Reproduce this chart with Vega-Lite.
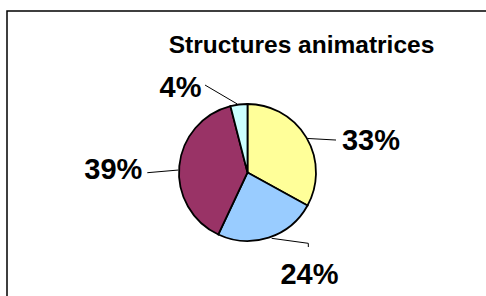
{
  "$schema": "https://vega.github.io/schema/vega-lite/v6.json",
  "width": 481,
  "height": 323,
  "autosize": {"type": "none"},
  "padding": {"left": 7, "top": 11, "right": 0, "bottom": 0},
  "background": "white",
  "view": {"stroke": "black", "strokeWidth": 1.5, "fill": "white"},
  "config": {"font": "Liberation Sans"},
  "title": {
    "text": "Structures animatrices",
    "font": "Liberation Sans",
    "fontSize": 24.5,
    "fontWeight": "bold",
    "color": "black",
    "anchor": "middle",
    "frame": "group",
    "dx": 54,
    "baseline": "alphabetic",
    "offset": -66
  },
  "datasets": {
    "slices": [
      {"cat": "Structure 1", "share": 0.33},
      {"cat": "Structure 2", "share": 0.24},
      {"cat": "Structure 3", "share": 0.39},
      {"cat": "Structure 4", "share": 0.04}
    ],
    "leaders": [
      {"x": 0.875, "y": 0.497, "x2": 1.292, "y2": 0.474},
      {"x": 0.353, "y": -0.961, "x2": 0.888, "y2": -1.034},
      {"x": 0.888, "y": -1.034, "x2": 0.888, "y2": -1.088},
      {"x": -1.010, "y": 0.036, "x2": -1.463, "y2": -0.003},
      {"x": -0.149, "y": 1.0, "x2": -0.620, "y2": 1.277}
    ]
  },
  "layer": [
    {
      "data": {"name": "leaders"},
      "mark": {"type": "rule", "color": "black", "strokeWidth": 1},
      "encoding": {
        "x": {"field": "x", "type": "quantitative", "scale": {"domain": [-3.511, 3.511], "nice": false, "zero": false}, "axis": null},
        "y": {"field": "y", "type": "quantitative", "scale": {"domain": [-2.358, 2.358], "nice": false, "zero": false}, "axis": null},
        "x2": {"field": "x2"},
        "y2": {"field": "y2"}
      }
    },
    {
      "data": {"name": "slices"},
      "mark": {"type": "arc", "outerRadius": 68.5, "stroke": "black", "strokeWidth": 1.8},
      "encoding": {
        "theta": {"field": "share", "type": "quantitative", "stack": true},
        "order": {"field": "cat", "type": "ordinal", "sort": "ascending"},
        "color": {
          "field": "cat",
          "type": "nominal",
          "scale": {"domain": ["Structure 1", "Structure 2", "Structure 3", "Structure 4"], "range": ["#FFFF99", "#99CCFF", "#993366", "#CCFFFF"]},
          "legend": null
        }
      }
    },
    {
      "data": {"name": "slices"},
      "mark": {"type": "text", "radius": 90, "align": "center", "baseline": "alphabetic", "fontSize": 29, "fontWeight": "bold", "color": "black", "dx": 46, "dy": 23.3},
      "encoding": {
        "theta": {"field": "share", "type": "quantitative", "stack": true},
        "order": {"field": "cat", "type": "ordinal", "sort": "ascending"},
        "text": {"condition": {"test": "datum.cat === 'Structure 1'", "field": "share", "type": "quantitative", "format": ".0%"}, "value": ""}
      }
    },
    {
      "data": {"name": "slices"},
      "mark": {"type": "text", "radius": 90, "align": "center", "baseline": "alphabetic", "fontSize": 29, "fontWeight": "bold", "color": "black", "dx": 34.2, "dy": 25.9},
      "encoding": {
        "theta": {"field": "share", "type": "quantitative", "stack": true},
        "order": {"field": "cat", "type": "ordinal", "sort": "ascending"},
        "text": {"condition": {"test": "datum.cat === 'Structure 2'", "field": "share", "type": "quantitative", "format": ".0%"}, "value": ""}
      }
    },
    {
      "data": {"name": "slices"},
      "mark": {"type": "text", "radius": 90, "align": "center", "baseline": "alphabetic", "fontSize": 29, "fontWeight": "bold", "color": "black", "dx": -44.6, "dy": 15},
      "encoding": {
        "theta": {"field": "share", "type": "quantitative", "stack": true},
        "order": {"field": "cat", "type": "ordinal", "sort": "ascending"},
        "text": {"condition": {"test": "datum.cat === 'Structure 3'", "field": "share", "type": "quantitative", "format": ".0%"}, "value": ""}
      }
    },
    {
      "data": {"name": "slices"},
      "mark": {"type": "text", "radius": 90, "align": "center", "baseline": "alphabetic", "fontSize": 29, "fontWeight": "bold", "color": "black", "dx": -55.7, "dy": 13.5},
      "encoding": {
        "theta": {"field": "share", "type": "quantitative", "stack": true},
        "order": {"field": "cat", "type": "ordinal", "sort": "ascending"},
        "text": {"condition": {"test": "datum.cat === 'Structure 4'", "field": "share", "type": "quantitative", "format": ".0%"}, "value": ""}
      }
    }
  ]
}
